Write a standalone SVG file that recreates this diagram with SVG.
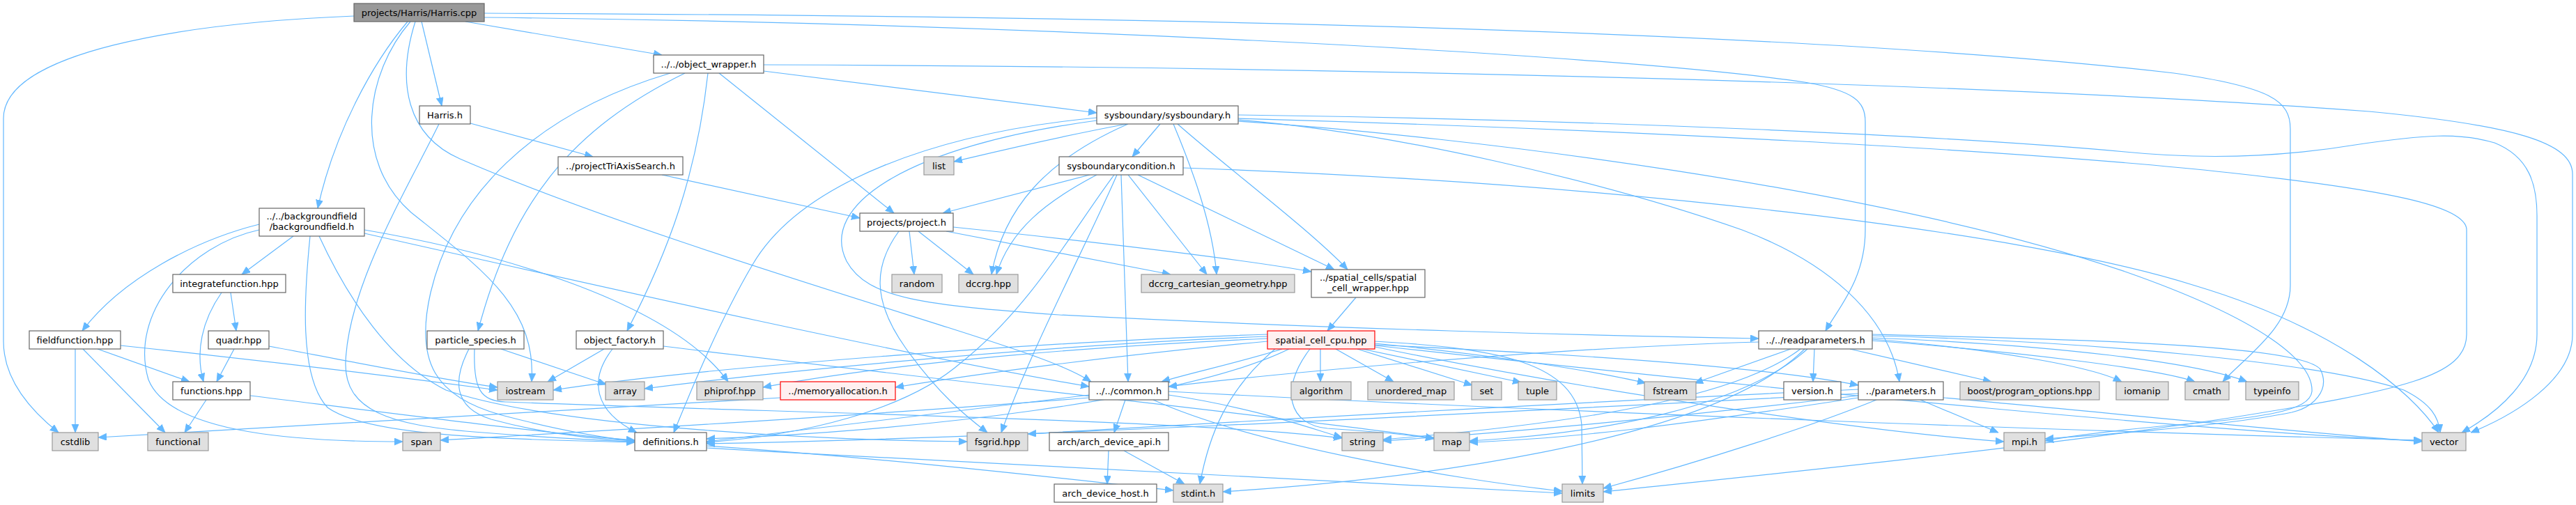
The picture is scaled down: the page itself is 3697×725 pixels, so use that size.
<svg xmlns="http://www.w3.org/2000/svg" width="3697" height="725" viewBox="0 0 3697 725">
<style>
.n rect{fill:#ffffff;stroke:#666666;stroke-width:1.2}
.s rect{fill:#e0e0e0;stroke:#999999;stroke-width:1.2}
.r rect{fill:#999999;stroke:#666666;stroke-width:1.2}
.x rect{fill:#fff0f0;stroke:#ff0000;stroke-width:1.2}
text{font-family:"DejaVu Sans","Liberation Sans",sans-serif;font-size:13px;text-anchor:middle;fill:#000000}
#edges path{fill:none;stroke:#63b8ff;stroke-width:1.2;marker-end:url(#a)}
</style>
<defs>
<marker id="a" markerWidth="13" markerHeight="11" refX="12" refY="5" orient="auto" markerUnits="userSpaceOnUse"><path d="M0,0 L12,5 L0,10 z" fill="#63b8ff" stroke="#63b8ff" stroke-width="0.8"/></marker>
</defs>
<rect width="3697" height="725" fill="#ffffff"/>
<g id="edges">
<path d="M508,23 C260,33 5,75 5,170 L5,490 C5,545 45,590 84,621"/>
<path d="M585,31 C535,90 480,190 456,299"/>
<path d="M589,31 C525,105 505,230 590,305 C690,385 770,440 763,548"/>
<path d="M596,31 C568,120 585,195 660,228 C860,315 1170,410 1360,470 C1470,505 1530,525 1566,548"/>
<path d="M605,31 L634,152"/>
<path d="M668,31 L950,79"/>
<path d="M695,19 C1700,23 2600,45 3120,105 C3260,125 3287,145 3287,185 L3287,410 C3287,470 3225,510 3190,548"/>
<path d="M695,25 C1400,32 2300,75 2590,118 C2660,130 2677,145 2677,175 L2677,330 C2677,400 2640,440 2620,475"/>
<path d="M675,177 L851,225"/>
<path d="M630,178 C585,270 500,410 496,520 C494,590 560,610 680,620 C780,628 860,632 911,634"/>
<path d="M950,251 L1234,313"/>
<path d="M1096,93 C1800,95 2800,115 3400,160 C3610,180 3692,205 3692,250 L3692,480 C3692,545 3610,595 3546,621"/>
<path d="M1096,102 L1574,162"/>
<path d="M962,105 C760,165 650,285 618,420 C595,520 625,570 720,596 C800,617 860,628 911,633"/>
<path d="M983,105 C820,185 735,290 686,475"/>
<path d="M1016,105 C1000,250 960,360 900,475"/>
<path d="M1032,105 L1283,306"/>
<path d="M372,322 C280,345 175,400 118,475"/>
<path d="M372,330 C270,352 185,450 213,545 C245,625 440,634 578,634"/>
<path d="M421,339 L347,394"/>
<path d="M445,339 C437,420 428,540 470,585 C525,625 700,630 911,635"/>
<path d="M458,339 C500,430 560,520 640,560 C800,615 1200,632 1388,634"/>
<path d="M523,330 C700,360 960,430 1045,548"/>
<path d="M523,335 C900,420 1300,510 1563,555"/>
<path d="M331,420 L339,475"/>
<path d="M318,420 C290,460 280,505 292,548"/>
<path d="M108,501 L108,621"/>
<path d="M119,501 L237,621"/>
<path d="M140,501 L272,548"/>
<path d="M173,496 C400,520 600,545 714,560"/>
<path d="M336,501 L311,548"/>
<path d="M386,497 C500,518 620,543 714,556"/>
<path d="M296,574 L265,621"/>
<path d="M359,568 C600,598 800,624 911,632"/>
<path d="M673,501 C650,545 650,585 705,602 C790,625 860,631 911,633"/>
<path d="M719,501 L870,552"/>
<path d="M681,501 C679,560 690,575 725,577 C1100,592 1700,602 1926,629"/>
<path d="M867,501 L786,548"/>
<path d="M879,501 C845,545 852,590 914,621"/>
<path d="M952,497 C1300,540 1900,605 2058,629"/>
<path d="M1120,571 C800,590 400,612 141,628"/>
<path d="M1014,640 C1300,660 1550,690 1684,704"/>
<path d="M1014,643 C1500,672 2000,697 2242,708"/>
<path d="M1617,178 C1500,200 1420,220 1369,232"/>
<path d="M1665,178 L1625,225"/>
<path d="M1574,169 C1350,190 1150,260 1080,380 C1030,465 990,565 967,621"/>
<path d="M1574,173 C1300,210 1175,295 1215,375 C1245,430 1330,438 1520,452 C1900,472 2300,482 2524,486"/>
<path d="M1619,178 C1500,230 1440,300 1423,394"/>
<path d="M1684,178 C1710,240 1740,320 1746,394"/>
<path d="M1690,178 C1760,240 1880,330 1934,387"/>
<path d="M1777,165 C2300,172 2800,195 3050,218 C3150,228 3260,228 3380,208 C3480,193 3530,190 3580,205 C3630,225 3641,265 3641,310 L3641,480 C3641,545 3585,592 3533,621"/>
<path d="M1777,170 C2300,185 2900,215 3200,248 C3420,272 3540,295 3540,330 L3540,480 C3540,540 3450,560 3200,600 C2900,645 2500,685 2301,706"/>
<path d="M1777,172 C2000,190 2300,260 2500,330 C2620,375 2710,450 2726,548"/>
<path d="M1777,174 C2100,195 2700,270 3050,390 C3250,460 3320,520 3318,562 C3315,590 3250,600 3100,612 C3020,620 2960,628 2935,633"/>
<path d="M1564,251 L1353,306"/>
<path d="M1574,251 C1500,290 1450,330 1430,394"/>
<path d="M1599,251 C1540,330 1480,440 1380,520 C1300,590 1150,625 1014,635"/>
<path d="M1603,251 C1560,350 1480,500 1437,621"/>
<path d="M1609,251 L1619,548"/>
<path d="M1619,251 L1732,394"/>
<path d="M1633,251 L1915,387"/>
<path d="M1698,241 C2300,262 2900,330 3150,410 C3350,470 3460,560 3500,621"/>
<path d="M1305,332 L1312,394"/>
<path d="M1318,332 L1397,394"/>
<path d="M1290,332 C1255,380 1250,430 1300,500 C1350,570 1390,600 1417,621"/>
<path d="M1358,332 C1450,350 1600,378 1680,394"/>
<path d="M1368,326 C1600,350 1800,375 1882,390"/>
<path d="M1946,427 L1905,475"/>
<path d="M1895,501 L1895,548"/>
<path d="M1917,501 L2000,548"/>
<path d="M1948,501 L2113,553"/>
<path d="M1955,501 L2183,549"/>
<path d="M1973,493 C2150,510 2300,535 2362,550"/>
<path d="M1973,490 C2150,500 2262,520 2270,610 L2271,695"/>
<path d="M1840,501 C1780,520 1710,535 1667,548"/>
<path d="M1819,490 C1600,510 1400,537 1285,556"/>
<path d="M1819,486 C1500,500 1250,527 1095,556"/>
<path d="M1819,483 C1500,495 1100,535 925,558"/>
<path d="M1819,480 C1500,490 1000,528 794,560"/>
<path d="M1850,501 C1700,575 1300,620 1014,630"/>
<path d="M1830,501 C1760,560 1735,625 1722,695"/>
<path d="M1880,501 C1835,560 1850,610 1905,615 C1980,620 2030,625 2058,630"/>
<path d="M1973,498 C2300,565 2700,622 2876,634"/>
<path d="M1973,496 C2600,565 3200,622 3476,633"/>
<path d="M1973,495 C2300,510 2550,530 2667,553"/>
<path d="M1615,574 L1599,621"/>
<path d="M1563,567 C1300,600 1100,625 1014,634"/>
<path d="M1677,567 C1800,585 1880,615 1926,628"/>
<path d="M1655,574 C1800,640 2100,690 2242,705"/>
<path d="M1677,562 C2200,590 3000,620 3476,632"/>
<path d="M1563,571 C1200,600 800,622 632,632"/>
<path d="M1591,647 L1589,695"/>
<path d="M1613,647 L1700,695"/>
<path d="M2570,501 L2432,550"/>
<path d="M2604,501 L2602,548"/>
<path d="M2655,501 L2858,548"/>
<path d="M2584,501 C2500,565 2300,605 1985,631"/>
<path d="M2594,501 C2500,585 2300,622 2109,633"/>
<path d="M2687,487 C2850,500 3000,525 3045,548"/>
<path d="M2687,489 C2900,505 3100,530 3150,548"/>
<path d="M2687,485 C2950,495 3150,520 3225,548"/>
<path d="M2687,482 C3000,490 3330,520 3450,560 C3490,580 3500,600 3502,621"/>
<path d="M2687,480 C3000,488 3300,495 3330,530 C3345,560 3320,585 3289,592 C3200,610 3050,622 2935,630"/>
<path d="M2590,501 C2450,640 2000,690 1755,706"/>
<path d="M2524,491 C2200,500 1800,540 1677,555"/>
<path d="M2756,574 L2868,621"/>
<path d="M2693,574 C2600,612 2450,660 2301,701"/>
<path d="M2667,568 C2400,600 2150,622 1985,633"/>
<path d="M2667,571 C2400,612 2250,630 2109,635"/>
<path d="M2789,571 C3100,600 3350,625 3476,634"/>
<path d="M2667,559 C2200,580 1700,610 1475,623"/>
<path d="M2667,565 C2000,600 1400,630 1014,637"/>
</g>
<g id="n0" class="r"><rect x="508" y="5" width="187" height="26"/><text x="601.5" y="22.5">projects/Harris/Harris.cpp</text></g>
<g id="n1" class="n"><rect x="602" y="152" width="73" height="26"/><text x="638.5" y="169.5">Harris.h</text></g>
<g id="n2" class="n"><rect x="938" y="79" width="158" height="26"/><text x="1017" y="96.5">../../object_wrapper.h</text></g>
<g id="n3" class="n"><rect x="372" y="299" width="151" height="40"/><text x="447.5" y="315">../../backgroundfield</text><text x="447.5" y="330">/backgroundfield.h</text></g>
<g id="n4" class="n"><rect x="801" y="225" width="179" height="26"/><text x="890.5" y="242.5">../projectTriAxisSearch.h</text></g>
<g id="n5" class="n"><rect x="1574" y="152" width="203" height="26"/><text x="1675.5" y="169.5">sysboundary/sysboundary.h</text></g>
<g id="n6" class="s"><rect x="1326" y="225" width="43" height="26"/><text x="1347.5" y="242.5">list</text></g>
<g id="n7" class="n"><rect x="1520" y="225" width="178" height="26"/><text x="1609" y="242.5">sysboundarycondition.h</text></g>
<g id="n8" class="n"><rect x="1234" y="306" width="134" height="26"/><text x="1301" y="323.5">projects/project.h</text></g>
<g id="n9" class="n"><rect x="248" y="394" width="162" height="26"/><text x="329" y="411.5">integratefunction.hpp</text></g>
<g id="n10" class="n"><rect x="42" y="475" width="131" height="26"/><text x="107.5" y="492.5">fieldfunction.hpp</text></g>
<g id="n11" class="n"><rect x="299" y="475" width="87" height="26"/><text x="342.5" y="492.5">quadr.hpp</text></g>
<g id="n12" class="n"><rect x="248" y="548" width="111" height="26"/><text x="303.5" y="565.5">functions.hpp</text></g>
<g id="n13" class="s"><rect x="75" y="621" width="66" height="26"/><text x="108" y="638.5">cstdlib</text></g>
<g id="n14" class="s"><rect x="212" y="621" width="87" height="26"/><text x="255.5" y="638.5">functional</text></g>
<g id="n15" class="s"><rect x="578" y="621" width="54" height="26"/><text x="605" y="638.5">span</text></g>
<g id="n16" class="n"><rect x="613" y="475" width="139" height="26"/><text x="682.5" y="492.5">particle_species.h</text></g>
<g id="n17" class="n"><rect x="827" y="475" width="125" height="26"/><text x="889.5" y="492.5">object_factory.h</text></g>
<g id="n18" class="s"><rect x="714" y="548" width="80" height="26"/><text x="754" y="565.5">iostream</text></g>
<g id="n19" class="s"><rect x="869" y="548" width="56" height="26"/><text x="897" y="565.5">array</text></g>
<g id="n20" class="s"><rect x="1000" y="548" width="95" height="26"/><text x="1047.5" y="565.5">phiprof.hpp</text></g>
<g id="n21" class="x"><rect x="1120" y="548" width="165" height="26"/><text x="1202.5" y="565.5">../memoryallocation.h</text></g>
<g id="n22" class="n"><rect x="911" y="621" width="103" height="26"/><text x="962.5" y="638.5">definitions.h</text></g>
<g id="n23" class="s"><rect x="1280" y="394" width="72" height="26"/><text x="1316" y="411.5">random</text></g>
<g id="n24" class="s"><rect x="1376" y="394" width="85" height="26"/><text x="1418.5" y="411.5">dccrg.hpp</text></g>
<g id="n25" class="s"><rect x="1638" y="394" width="220" height="26"/><text x="1748" y="411.5">dccrg_cartesian_geometry.hpp</text></g>
<g id="n26" class="n"><rect x="1882" y="387" width="163" height="40"/><text x="1963.5" y="403">../spatial_cells/spatial</text><text x="1963.5" y="418">_cell_wrapper.hpp</text></g>
<g id="n27" class="n"><rect x="1563" y="548" width="114" height="26"/><text x="1620" y="565.5">../../common.h</text></g>
<g id="n28" class="s"><rect x="1388" y="621" width="87" height="26"/><text x="1431.5" y="638.5">fsgrid.hpp</text></g>
<g id="n29" class="n"><rect x="1506" y="621" width="171" height="26"/><text x="1591.5" y="638.5">arch/arch_device_api.h</text></g>
<g id="n30" class="n"><rect x="1513" y="695" width="147" height="26"/><text x="1586.5" y="712.5">arch_device_host.h</text></g>
<g id="n31" class="s"><rect x="1684" y="695" width="71" height="26"/><text x="1719.5" y="712.5">stdint.h</text></g>
<g id="n32" class="x"><rect x="1819" y="475" width="154" height="26"/><text x="1896" y="492.5">spatial_cell_cpu.hpp</text></g>
<g id="n33" class="s"><rect x="1853" y="548" width="86" height="26"/><text x="1896" y="565.5">algorithm</text></g>
<g id="n34" class="s"><rect x="1963" y="548" width="124" height="26"/><text x="2025" y="565.5">unordered_map</text></g>
<g id="n35" class="s"><rect x="2112" y="548" width="43" height="26"/><text x="2133.5" y="565.5">set</text></g>
<g id="n36" class="s"><rect x="2179" y="548" width="55" height="26"/><text x="2206.5" y="565.5">tuple</text></g>
<g id="n37" class="s"><rect x="2360" y="548" width="74" height="26"/><text x="2397" y="565.5">fstream</text></g>
<g id="n38" class="s"><rect x="1926" y="621" width="59" height="26"/><text x="1955.5" y="638.5">string</text></g>
<g id="n39" class="s"><rect x="2058" y="621" width="51" height="26"/><text x="2083.5" y="638.5">map</text></g>
<g id="n40" class="s"><rect x="2242" y="695" width="59" height="26"/><text x="2271.5" y="712.5">limits</text></g>
<g id="n41" class="n"><rect x="2524" y="475" width="163" height="26"/><text x="2605.5" y="492.5">../../readparameters.h</text></g>
<g id="n42" class="n"><rect x="2560" y="548" width="82" height="26"/><text x="2601" y="565.5">version.h</text></g>
<g id="n43" class="n"><rect x="2667" y="548" width="122" height="26"/><text x="2728" y="565.5">../parameters.h</text></g>
<g id="n44" class="s"><rect x="2813" y="548" width="200" height="26"/><text x="2913" y="565.5">boost/program_options.hpp</text></g>
<g id="n45" class="s"><rect x="2876" y="621" width="59" height="26"/><text x="2905.5" y="638.5">mpi.h</text></g>
<g id="n46" class="s"><rect x="3037" y="548" width="75" height="26"/><text x="3074.5" y="565.5">iomanip</text></g>
<g id="n47" class="s"><rect x="3136" y="548" width="63" height="26"/><text x="3167.5" y="565.5">cmath</text></g>
<g id="n48" class="s"><rect x="3223" y="548" width="76" height="26"/><text x="3261" y="565.5">typeinfo</text></g>
<g id="n49" class="s"><rect x="3476" y="621" width="63" height="26"/><text x="3507.5" y="638.5">vector</text></g>
</svg>
